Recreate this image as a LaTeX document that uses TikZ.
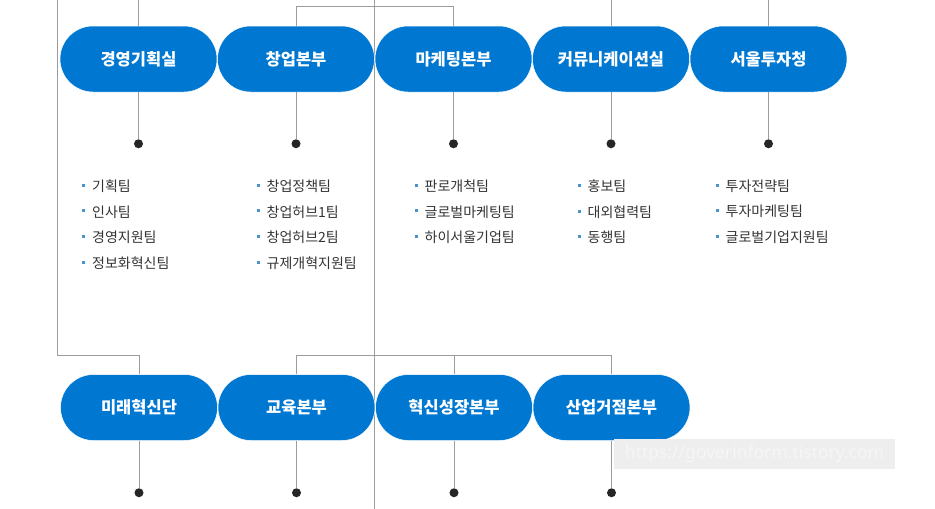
\documentclass[tikz,border=0pt]{standalone}
\usepackage{fontspec}
\newfontfamily\krfont{Noto Sans CJK KR}
\newfontfamily\urlfont{Noto Sans}
\usetikzlibrary{%
    backgrounds,
    positioning
}
\definecolor{pillblue}{HTML}{0078D2}
\definecolor{linegray}{HTML}{9C9C9C}
\definecolor{teamtext}{HTML}{333333}
\definecolor{bulletblue}{HTML}{4A94CC}
\definecolor{markbg}{HTML}{EEEEEE}
\tikzset{orgline/.style = {draw=linegray, line width=1pt}}
\newcommand{\teamitem}[1]{{\color{bulletblue}\rule[.33em]{3pt}{3pt}}\hspace{7pt}#1}

\begin{document}
\begin{tikzpicture}[x=1pt, y=-1pt,
    pill/.style = {fill=pillblue, draw=white, line width=.5pt, rounded corners=33pt,
        minimum width=157pt, minimum height=66pt, inner sep=0pt, text=white,
        font=\krfont\bfseries\fontsize{16.5}{19}\selectfont},
    dot/.style = {circle, fill=black!85, minimum size=9pt, inner sep=0pt, outer sep=0pt},
    teamlist/.style = {anchor=north west, inner sep=0pt, align=left, text=teamtext,
        font=\krfont\fontsize{14}{25.7}\selectfont}]
    \useasboundingbox (0,0) rectangle (935,509);

    \node[pill] (plan) at (138.5,59) {경영기획실};
    \node[pill] (startup) [right=0pt of plan] {창업본부};
    \node[pill] (mkt) [right=0pt of startup] {마케팅본부};
    \node[pill] (comm) [right=0pt of mkt] {커뮤니케이션실};
    \node[pill] (invest) [right=0pt of comm] {서울투자청};

    \node[pill] (future) at (139,407.5) {미래혁신단};
    \node[pill] (edu) [right=0pt of future] {교육본부};
    \node[pill] (growth) [right=0pt of edu] {혁신성장본부};
    \node[pill] (hub) [right=0pt of growth] {산업거점본부};

    \node[dot] (plandot) [below=47pt of plan] {};
    \node[dot] (startupdot) [below=47pt of startup] {};
    \node[dot] (mktdot) [below=47pt of mkt] {};
    \node[dot] (commdot) [below=47pt of comm] {};
    \node[dot] (investdot) [below=47pt of invest] {};
    \node[dot] (futuredot) [below=47.5pt of future] {};
    \node[dot] (edudot) [below=47.5pt of edu] {};
    \node[dot] (growthdot) [below=47.5pt of growth] {};
    \node[dot] (hubdot) [below=47.5pt of hub] {};

    \node[teamlist] (planteams) at (82,179.5)
        {\teamitem{기획팀}\\ \teamitem{인사팀}\\ \teamitem{경영지원팀}\\ \teamitem{정보화혁신팀}};
    \node[teamlist] (startupteams) at (256.5,179.5)
        {\teamitem{창업정책팀}\\ \teamitem{창업허브1팀}\\ \teamitem{창업허브2팀}\\ \teamitem{규제개혁지원팀}};
    \node[teamlist] (mktteams) at (414.5,179.5)
        {\teamitem{판로개척팀}\\ \teamitem{글로벌마케팅팀}\\ \teamitem{하이서울기업팀}};
    \node[teamlist] (commteams) at (577.5,179.5)
        {\teamitem{홍보팀}\\ \teamitem{대외협력팀}\\ \teamitem{동행팀}};
    \node[teamlist] (investteams) at (715.5,179.5)
        {\teamitem{투자전략팀}\\ \teamitem{투자마케팅팀}\\ \teamitem{글로벌기업지원팀}};

    \coordinate (spinetop) at (374,0);
    \coordinate (spinebottom) at (374,509);
    \coordinate (lefttop) at (57,0);

    \begin{scope}[on background layer]
        \draw[orgline] (spinetop) -- (spinebottom);
        \draw[orgline] (lefttop) |- ([yshift=19pt]future.north) -- (future.north);
        \draw[orgline] (plan.north |- spinetop) -- (plan.north);
        \draw[orgline] (startup.north) -- ++(0,-19) -| (mkt.north);
        \draw[orgline] (comm.north |- spinetop) -- (comm.north);
        \draw[orgline] (invest.north |- spinetop) -- (invest.north);
        \draw[orgline] (edu.north) -- ++(0,-19) -| (hub.north);
        \draw[orgline] (growth.north) -- ++(0,-19);
    \end{scope}

    \draw[orgline] (plan) -- (plandot);
    \draw[orgline] (startup) -- (startupdot);
    \draw[orgline] (mkt) -- (mktdot);
    \draw[orgline] (comm) -- (commdot);
    \draw[orgline] (invest) -- (investdot);
    \draw[orgline] (future) -- (futuredot);
    \draw[orgline] (edu) -- (edudot);
    \draw[orgline] (growth) -- (growthdot);

    \node (watermark) at (754.5,454) [fill=markbg, minimum width=281pt, minimum height=30pt,
        inner sep=0pt, text=white!45!markbg, font=\urlfont\fontsize{17.5}{20}\selectfont]
        {https://goverinform.tistory.com};
    \draw[orgline] (hub) -- (hubdot);
\end{tikzpicture}
\end{document}
